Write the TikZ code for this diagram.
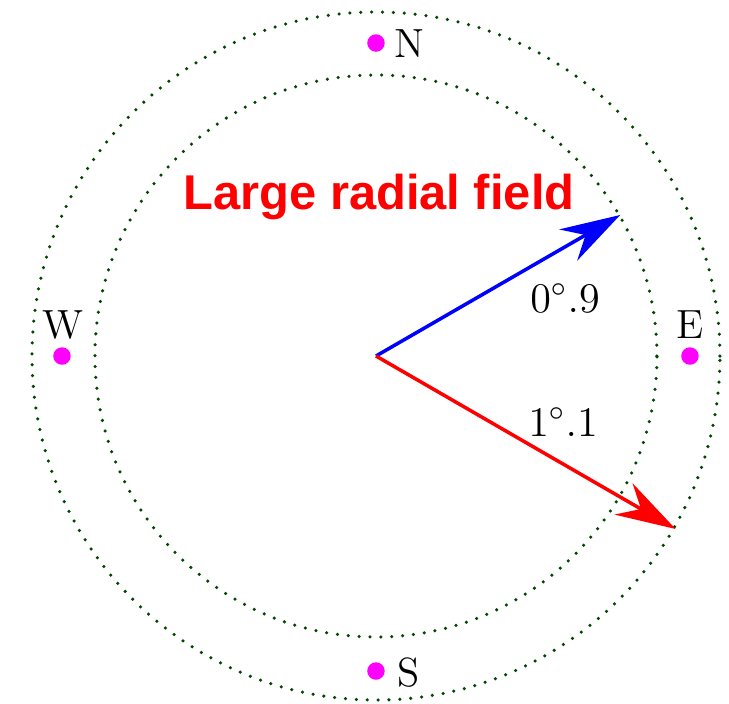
\documentclass[tikz,border=0pt]{standalone}
\usepackage{fontspec}
\newfontfamily\titlefont{Liberation Sans}
\usetikzlibrary{arrows.meta,positioning}
\definecolor{ringgreen}{RGB}{0,70,0}
\definecolor{dirmag}{RGB}{255,0,255}

\begin{document}
\begin{tikzpicture}[font=\fontsize{11.6}{14}\selectfont,
 ring/.style={ringgreen,line width=1pt,line cap=round,dash pattern=on 0pt off 3.1pt},
 dirdot/.style={circle,fill=dirmag,inner sep=0pt,minimum size=1.75mm},
 vec/.style={line width=1pt,-{Stealth[length=6mm,width=3.6mm,inset=2mm]}}]
\useasboundingbox (-3.76,-3.47) rectangle (3.53,3.56);
\coordinate (o) at (0,0);
\draw[ring] (o) circle (3.44);
\draw[ring] (o) circle (2.81);
% cardinal points
\node[dirdot] (n) at (0,3.13) {};
\node[dirdot] (s) at (0,-3.15) {};
\node[dirdot] (w) at (-3.14,0) {};
\node[dirdot] (e) at (3.14,0) {};
\node (nl) at (0.33,3.12) {N};
\node (sl) at (0.33,-3.17) {S};
\node (wl) at (-3.13,0.31) {W};
\node (el) at (3.14,0.31) {E};
% field vectors
\coordinate (tipb) at (30:2.82);
\coordinate (tipr) at (-30:3.46);
\draw[vec,blue] (o) -- (tipb);
\draw[vec,red] (o) -- (tipr);
\node (ab) at (1.89,0.58) {$0^\circ.9$};
\node (ar) at (1.87,-0.66) {$1^\circ.1$};
\node[anchor=base,red,font=\titlefont\bfseries\fontsize{13.9}{16}\selectfont] (title) at (0.03,1.47) {Large radial field};
\end{tikzpicture}
\end{document}
